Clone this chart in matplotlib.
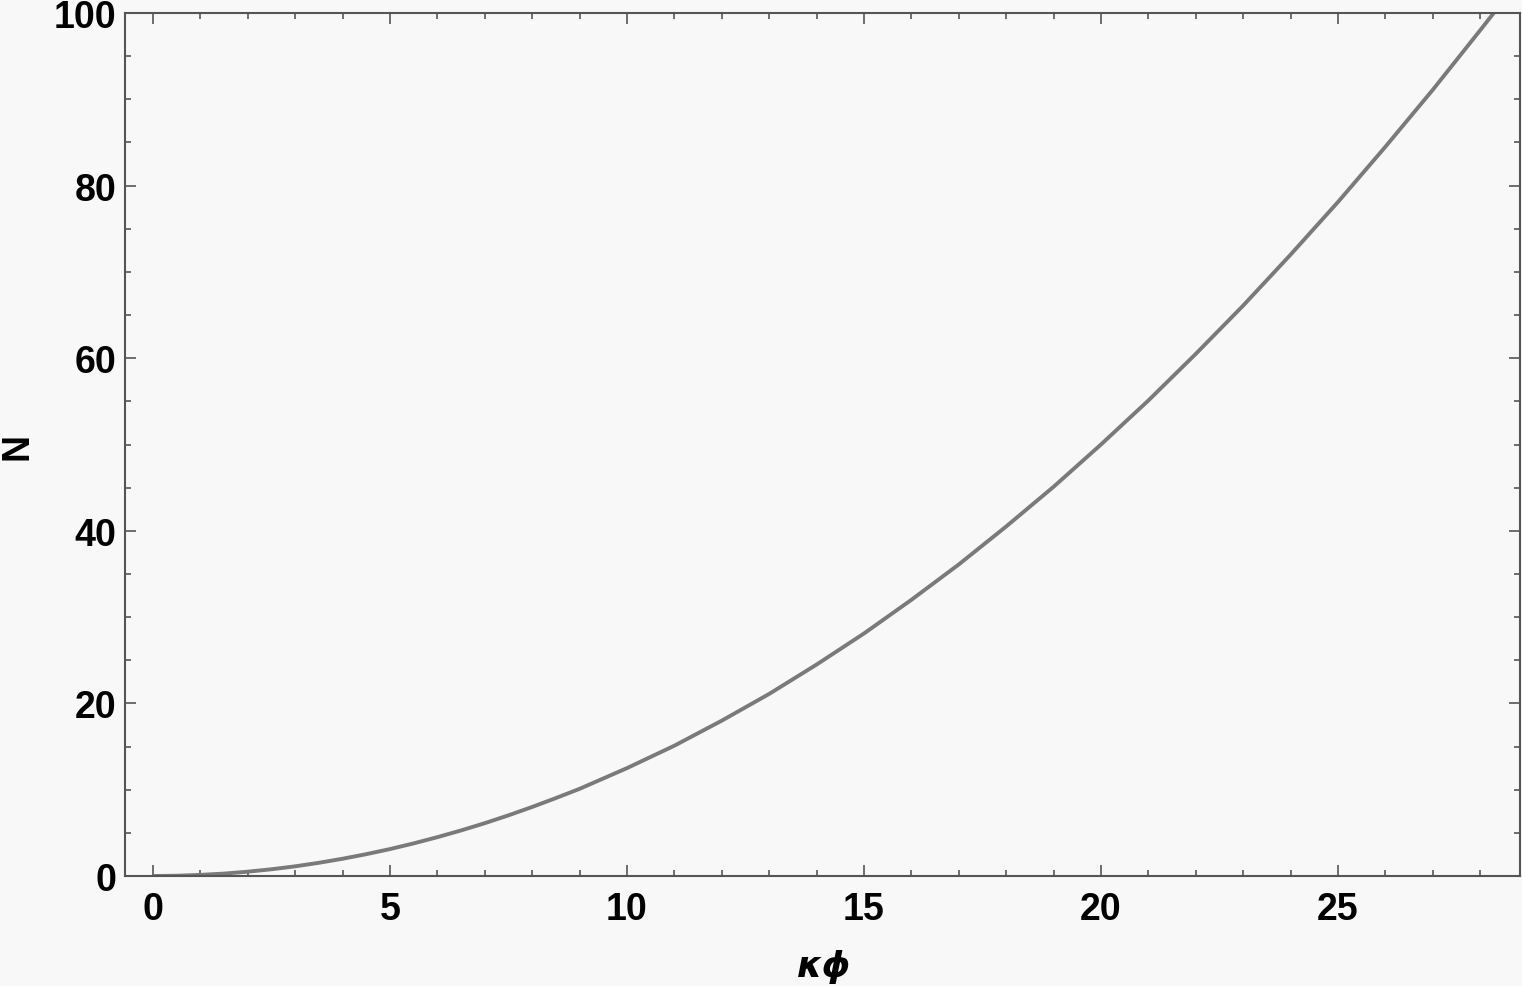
import matplotlib
matplotlib.use("Agg")
import matplotlib.pyplot as plt
from matplotlib.ticker import MultipleLocator

kphi = [0, 0.5, 1, 1.5, 2, 2.5, 3, 3.5, 4, 4.5, 5, 5.5, 6, 6.5, 7, 7.5, 8, 8.5, 9, 9.5,
        10, 11, 12, 13, 14, 15, 16, 17, 18, 19,
        20, 21, 22, 23, 24, 25, 26, 27, 28, 28.3]
N_vals = [0, 0.03, 0.13, 0.28, 0.5, 0.78, 1.12, 1.53, 2.0, 2.53, 3.12, 3.78, 4.5,
          5.28, 6.12, 7.03, 8.0, 9.03, 10.1, 11.3,
          12.5, 15.1, 18.0, 21.1, 24.5, 28.1, 32.0, 36.1, 40.5, 45.1, 50.0, 55.1,
          60.5, 66.1, 72.0, 78.1, 84.5, 91.1, 98.0, 100.1]
xticks = [0, 5, 10, 15, 20, 25]
yticks = [0, 20, 40, 60, 80, 100]

plt.rcParams['font.family'] = ['Liberation Sans', 'DejaVu Sans']
W, H = 1522, 987
fig = plt.figure(figsize=(W / 100, H / 100), dpi=100)
fig.patch.set_facecolor('#f8f8f8')
ax = fig.add_axes([125/W, 1 - 877/H, (1520-125)/W, (877-14)/H])
ax.set_facecolor('#f8f8f8')
ax.plot(kphi, N_vals, color='#7a7a7a', lw=2.8, solid_capstyle='butt')
ax.set_xlim(-0.59, 28.84)
ax.set_ylim(0, 100)
ax.set_xticks(xticks)
ax.set_yticks(yticks)
ax.xaxis.set_minor_locator(MultipleLocator(1))
ax.yaxis.set_minor_locator(MultipleLocator(5))
for s in ax.spines.values():
    s.set_color('#555555')
    s.set_linewidth(1.5)
ax.tick_params(which='both', direction='in', top=True, right=True, color='#555555', width=1.2,
               labeltop=False, labelright=False)
ax.tick_params(which='major', length=8, labelsize=27)
ax.tick_params(axis='y', which='major', pad=6)
ax.tick_params(axis='x', which='major', pad=11)
ax.tick_params(which='minor', length=4)
for lab in ax.get_xticklabels() + ax.get_yticklabels():
    lab.set_fontweight('bold')

fig.text(824/W, 1 - 977/H, 'κϕ', fontsize=26, fontweight='bold', style='italic',
         family=['DejaVu Sans'], ha='center', va='baseline')
fig.text(27/W, 1 - 447/H, 'N', fontsize=27, fontweight='bold', rotation=90,
         rotation_mode='anchor', ha='center', va='baseline')
fig.savefig('out.png', dpi=100, facecolor=fig.get_facecolor())
